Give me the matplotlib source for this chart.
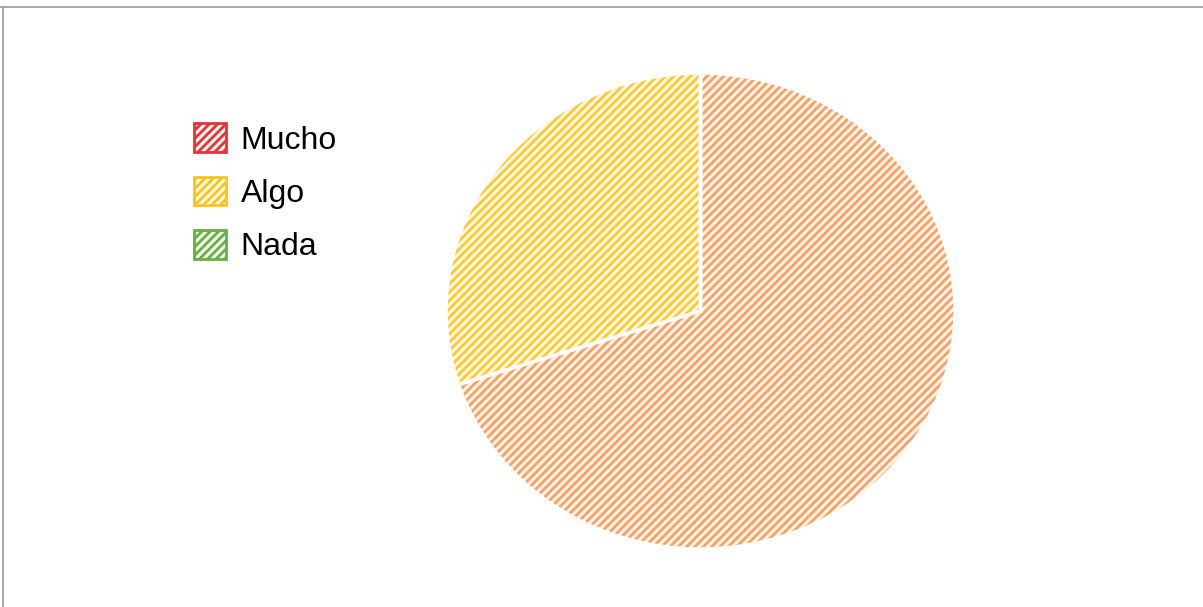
import matplotlib
matplotlib.use("Agg")
import matplotlib.pyplot as plt
from matplotlib.patches import Patch
from matplotlib.lines import Line2D

# respuestas (porcentaje)
labels = ["Mucho", "Algo", "Nada"]
values = [70, 30, 0]

legend_colors = ["#e4343a", "#f7c51e", "#6aae47"]
legend_faces = ["#fdf0f0", "#fef8e2", "#f0f7ea"]
slice_hatch = ["#f4a266", "#f8ca38", "#6aae47"]
slice_faces = ["#fdf0e6", "#fef7dc", "#f0f7ea"]

plt.rcParams['font.family'] = ['Liberation Sans', 'DejaVu Sans']
plt.rcParams['hatch.linewidth'] = 2.0

W, H = 1203, 607
fig = plt.figure(figsize=(W / 100, H / 100), dpi=100)
fig.patch.set_facecolor('white')

ax = fig.add_axes([446 / W, (H - 549) / H, 509 / W, 476 / H])
wedges, _ = ax.pie(values, startangle=90, counterclock=False, radius=1,
                   colors=slice_faces,
                   wedgeprops=dict(edgecolor='none', linewidth=0, hatch='////'))
for w, hc in zip(wedges, slice_hatch):
    w.set_edgecolor(hc)
    w.set_linewidth(0)

# white separators between slices
sep, _ = ax.pie(values, startangle=90, counterclock=False, radius=1,
                wedgeprops=dict(fill=False, edgecolor='white', linewidth=2.5))
ax.set_aspect('auto')
ax.set_xlim(-1, 1)
ax.set_ylim(-1, 1)
ax.axis('off')

handles = [Patch(facecolor=f, edgecolor=c, hatch='////', linewidth=2)
           for f, c in zip(legend_faces, legend_colors)]
fig.legend(handles, labels, loc='upper left',
           bbox_to_anchor=(172 / W, 1 - 101 / H),
           frameon=False, fontsize=23, handlelength=1.0, handleheight=1.0,
           handletextpad=0.45, labelspacing=0.66, borderpad=0.2)

# page border lines
fig.add_artist(Line2D([0, 1], [1 - 7 / H, 1 - 7 / H], color='#9a9a9a', lw=1.2,
                      transform=fig.transFigure))
fig.add_artist(Line2D([3 / W, 3 / W], [0, 1 - 7 / H], color='#9a9a9a', lw=1.2,
                      transform=fig.transFigure))

fig.savefig('out.png', dpi=100)
